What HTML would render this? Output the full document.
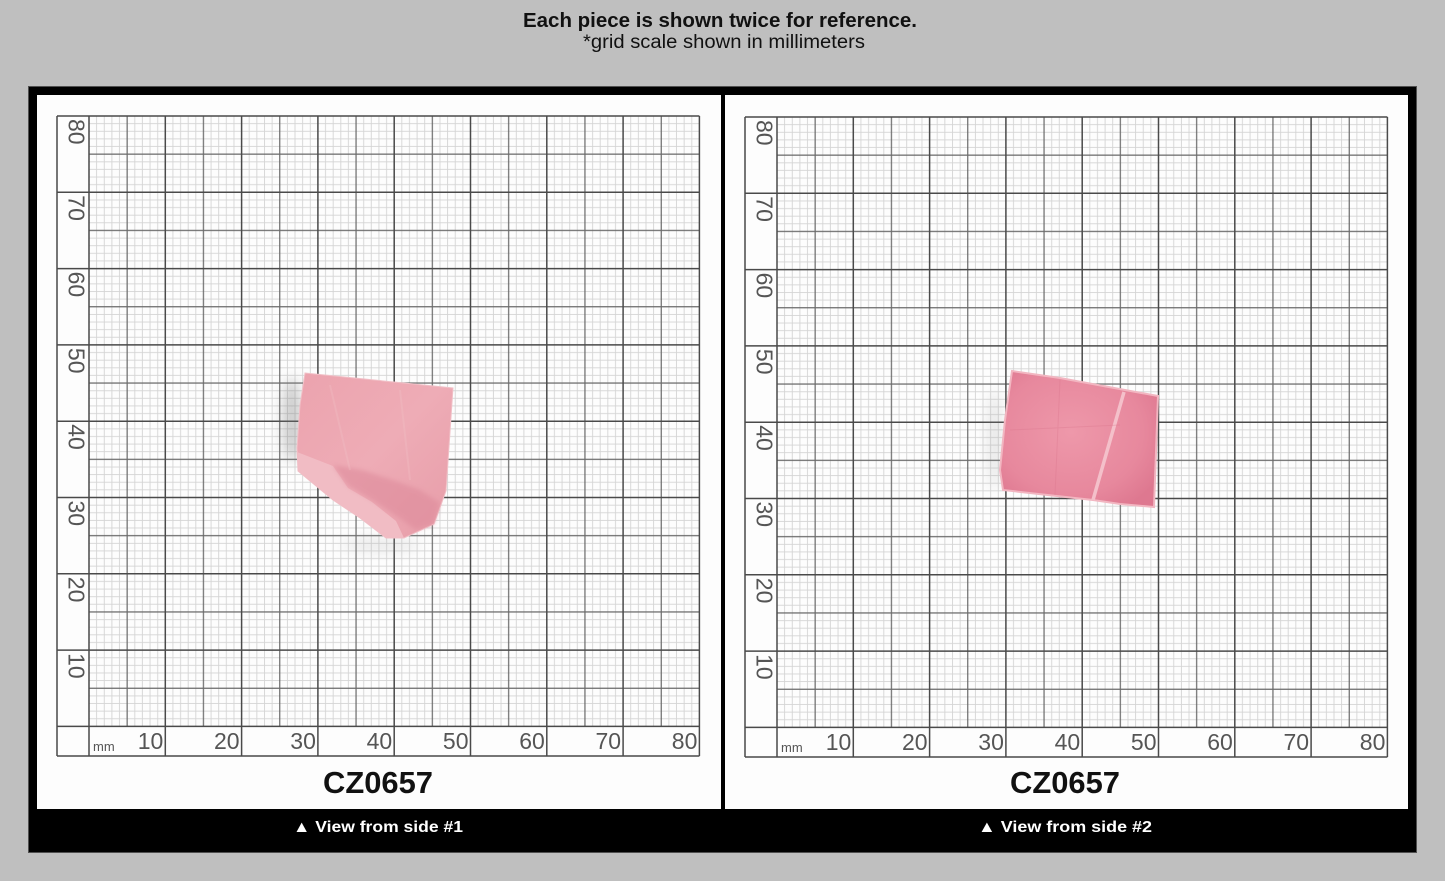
<!DOCTYPE html>
<html><head><meta charset="utf-8"><style>
html,body{margin:0;padding:0;background:#bfbfbf;}
svg{display:block;}
</style></head><body>
<svg width="1445" height="881" viewBox="0 0 1445 881" xmlns="http://www.w3.org/2000/svg">
<defs>
<pattern id="mg" width="76.3" height="76.3" patternUnits="userSpaceOnUse">
<path d="M7.63 0V76.3M15.26 0V76.3M22.89 0V76.3M30.52 0V76.3M45.78 0V76.3M53.41 0V76.3M61.04 0V76.3M68.67 0V76.3M0 7.63H76.3M0 15.26H76.3M0 22.89H76.3M0 30.52H76.3M0 45.78H76.3M0 53.41H76.3M0 61.04H76.3M0 68.67H76.3" stroke="#d4d4d4" stroke-width="0.9" fill="none"/>
<path d="M38.15 0V76.3M0 38.15H76.3" stroke="#6a6a6a" stroke-width="1.2" fill="none"/>
</pattern>
<linearGradient id="g1" x1="0" y1="0" x2="1" y2="1">
<stop offset="0" stop-color="#eca3ae"/><stop offset="0.5" stop-color="#eeacb6"/><stop offset="1" stop-color="#e79ca8"/>
</linearGradient>
<radialGradient id="g2" cx="0.45" cy="0.45" r="0.65">
<stop offset="0" stop-color="#ee98aa"/><stop offset="0.7" stop-color="#e7889d"/><stop offset="1" stop-color="#de7890"/>
</radialGradient>
<filter id="bl" x="-50%" y="-50%" width="200%" height="200%"><feGaussianBlur stdDeviation="6"/></filter>
<filter id="bl2" x="-20%" y="-20%" width="140%" height="140%"><feGaussianBlur stdDeviation="2.5"/></filter>
<g id="grid" font-family="'Liberation Sans', Arial, sans-serif" fill="#555">
<rect x="0" y="0" width="610.4" height="610.4" fill="url(#mg)"/>
<path d="M0 0V640M76.3 0V640M152.6 0V640M228.9 0V640M305.2 0V640M381.5 0V640M457.8 0V640M534.1 0V640M610.4 0V640M-32 0V640M-32 0H610.4M-32 76.3H610.4M-32 152.6H610.4M-32 228.9H610.4M-32 305.2H610.4M-32 381.5H610.4M-32 457.8H610.4M-32 534.1H610.4M-32 610.4H610.4M-32 640H610.4" stroke="#4a4a4a" stroke-width="1.5" fill="none"/>
<text x="4" y="635" font-size="13">mm</text>
<g font-size="23" text-anchor="end">
<text x="74.3" y="633">10</text>
<text x="150.6" y="633">20</text>
<text x="226.9" y="633">30</text>
<text x="303.2" y="633">40</text>
<text x="379.5" y="633">50</text>
<text x="455.8" y="633">60</text>
<text x="532.1" y="633">70</text>
<text x="608.4" y="633">80</text>
</g>
<g font-size="23">
<text transform="translate(-20.5,3) rotate(90)">80</text>
<text transform="translate(-20.5,79.3) rotate(90)">70</text>
<text transform="translate(-20.5,155.6) rotate(90)">60</text>
<text transform="translate(-20.5,231.9) rotate(90)">50</text>
<text transform="translate(-20.5,308.2) rotate(90)">40</text>
<text transform="translate(-20.5,384.5) rotate(90)">30</text>
<text transform="translate(-20.5,460.8) rotate(90)">20</text>
<text transform="translate(-20.5,537.1) rotate(90)">10</text>
</g>
</g>
</defs>

<rect x="0" y="0" width="1445" height="881" fill="#bfbfbf"/>
<text x="523" y="27" font-family="'Liberation Sans', Arial, sans-serif" font-weight="bold" font-size="20.5" textLength="394" lengthAdjust="spacingAndGlyphs" fill="#111">Each piece is shown twice for reference.</text>
<text x="583" y="48" font-family="'Liberation Sans', Arial, sans-serif" font-size="19" textLength="282" lengthAdjust="spacingAndGlyphs" fill="#111">*grid scale shown in millimeters</text>

<rect x="28.5" y="86.5" width="1388" height="766" fill="#000" stroke="#505050" stroke-width="1"/>
<rect x="37" y="95" width="684" height="714" fill="#fdfdfd"/>
<rect x="725" y="95" width="683" height="714" fill="#fdfdfd"/>

<g transform="translate(89,116)"><use href="#grid"/></g>
<g transform="translate(777,117)"><use href="#grid"/></g>

<!-- gem 1 shadow -->
<ellipse cx="292" cy="420" rx="10" ry="42" fill="#777" opacity="0.35" filter="url(#bl)"/>
<ellipse cx="380" cy="545" rx="40" ry="8" fill="#aaa" opacity="0.2" filter="url(#bl)"/>
<!-- gem 1 -->
<polygon points="305,373 453,388 446,491 434,524 404,538 386,538 360,518 333,500 298,471 297,448 300,405" fill="url(#g1)" stroke="#f1c0c7" stroke-width="1"/>
<polygon points="297,452 333,466 348,488 372,502 396,521 404,538 386,538 360,518 333,500 298,471" fill="#f1bcc4"/>
<polygon points="333,465 362,470 396,481 420,490 440,503 434,524 416,530 398,517 372,500 348,486" fill="#de8b9b" opacity="0.6" filter="url(#bl2)"/>
<path d="M330,385 L350,470 M400,390 L410,480" stroke="#f4c6cc" stroke-width="2" opacity="0.25" fill="none"/>

<!-- gem 2 shadow -->
<ellipse cx="995" cy="440" rx="8" ry="50" fill="#999" opacity="0.2" filter="url(#bl)"/>
<!-- gem 2 -->
<polygon points="1012,371 1060,378 1125,390 1158,396 1154,507 1120,504 1093,500 1003,490 1000,470 1005,420" fill="url(#g2)" stroke="#f2b6c1" stroke-width="2"/>
<path d="M1124,392 L1093,500" stroke="#f4c0ca" stroke-width="3.5" fill="none"/>
<path d="M1010,430 L1120,425 M1060,380 L1055,495" stroke="#d9768d" stroke-width="1" opacity="0.35" fill="none"/>

<g font-family="'Liberation Sans', Arial, sans-serif" font-weight="bold">
<text x="323" y="793" font-size="31" textLength="110" lengthAdjust="spacingAndGlyphs" fill="#111">CZ0657</text>
<text x="1010" y="793" font-size="31" textLength="110" lengthAdjust="spacingAndGlyphs" fill="#111">CZ0657</text>
<text x="293" y="832" font-size="16" textLength="170" lengthAdjust="spacingAndGlyphs" fill="#fff">▲ View from side #1</text>
<text x="978" y="832" font-size="16" textLength="174" lengthAdjust="spacingAndGlyphs" fill="#fff">▲ View from side #2</text>
</g>
</svg>
</body></html>
